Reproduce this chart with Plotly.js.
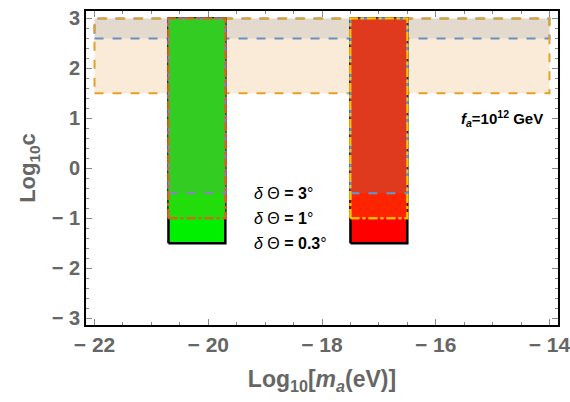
<!DOCTYPE html>
<html><head><meta charset="utf-8">
<script src="https://cdn.plot.ly/plotly-3.0.1.min.js"></script>
<style>html,body{margin:0;padding:0;background:#fff}#c{width:570px;height:402px}</style>
</head><body><div id="c"></div>
<script>
// ---- data ----
const bandX = [-22, -14];          // log10 m_a range of horizontal band
const bandY = [1.5, 3];            // outer band (log10 c)
const innerBandY = [2.6, 3];       // inner band (log10 c)
const greenX = [-20.7, -19.7];     // green column (log10 m_a)
const redX = [-17.5, -16.5];       // red column (log10 m_a)
const columnTop = 3;
const angleLabels = ['3', '1', '0.3'];    // δΘ in degrees
const angleLevels = [-0.5, -1, -1.5];     // lower edge of column for each δΘ
const xTicks = [-22, -20, -18, -16, -14];
const yTicks = [-3, -2, -1, 0, 1, 2, 3];

function rect(x, y) {
  return { x: [x[0], x[1], x[1], x[0], x[0]], y: [y[0], y[0], y[1], y[1], y[0]] };
}
const traces = [];
function addRect(x, y, fill, lineColor, dash, width) {
  const r = rect(x, y);
  traces.push({ type: 'scatter', mode: 'lines', x: r.x, y: r.y,
    fill: fill ? 'toself' : 'none', fillcolor: fill || 'rgba(0,0,0,0)',
    line: { color: lineColor || 'rgba(0,0,0,0)', dash: dash || 'solid', width: lineColor ? width : 0 },
    hoverinfo: 'skip', showlegend: false });
}
// band
addRect(bandX, bandY, 'rgba(245,222,190,0.6)', null);
addRect(bandX, innerBandY, 'rgba(150,160,170,0.22)', '#6c8ebf', 'dash', 2);
addRect(bandX, bandY, null, '#e5a126', 'dash', 2);
// columns (0.3°, 1°, 3°)
const greenFills = ['#00f000', '#22dc0c', '#33cc22'];
const redFills = ['#ff0000', '#ff2400', '#e03a1e'];
const greenLines = [['#000000', 'solid', 2.5], ['#d2691e', 'dashdot', 2], ['#8b80c4', 'dash', 2]];
const redLines = [['#000000', 'solid', 2.5], ['#ffc000', 'dashdot', 2], ['#5b9bd5', 'dash', 2]];
for (let k = 2; k >= 0; k--) {
  const i = 2 - k; // 0 -> 0.3°, 1 -> 1°, 2 -> 3°
  const lvl = angleLevels[k];
  addRect(greenX, [lvl, columnTop], greenFills[i], greenLines[i][0], greenLines[i][1], greenLines[i][2]);
  addRect(redX, [lvl, columnTop], redFills[i], redLines[i][0], redLines[i][1], redLines[i][2]);
}
// 1° border on top edge (drawn above 3° border as in reference)
addRect(greenX, [angleLevels[1], columnTop], null, '#d2691e', 'dashdot', 2);
addRect(redX, [angleLevels[1], columnTop], null, '#ffc000', 'dashdot', 2);

const FONT = 'Liberation Sans, Arial, sans-serif';
const annotations = angleLabels.map((a, i) => ({
  x: greenX[1] + 0.47, y: angleLevels[i], xref: 'x', yref: 'y', xanchor: 'left', yanchor: 'middle',
  text: '<i>δ</i> Θ <b>= ' + a + '</b>°', showarrow: false,
  font: { family: FONT, size: 16, color: '#000' }
}));
annotations.push({
  x: bandX[1] - 0.07, y: 1.0, xref: 'x', yref: 'y', xanchor: 'right', yanchor: 'middle',
  text: '<b><i>f</i><sub><i>a</i></sub>=10<sup>12</sup> GeV</b>', showarrow: false,
  font: { family: FONT, size: 15, color: '#000' }
});

const neg = v => v < 0 ? '− ' + Math.abs(v) : String(v);
const layout = {
  width: 570, height: 402,
  margin: { l: 86, r: 12, t: 11, b: 77 },
  paper_bgcolor: '#fff', plot_bgcolor: '#fff',
  showlegend: false,
  xaxis: {
    range: [-22.15, -13.85], tickvals: xTicks,
    ticktext: xTicks.map(v => '<b>' + neg(v) + '</b>'),
    ticklabeloverflow: 'allow',
    ticks: 'inside', ticklen: 6, tickcolor: '#888', tickwidth: 1,
    minor: { dtick: 0.5, tick0: -22, ticks: 'inside', ticklen: 3, tickcolor: '#888' },
    showline: true, linecolor: '#000', linewidth: 2, mirror: 'ticks',
    showgrid: false, zeroline: false,
    tickfont: { family: FONT, size: 21, color: '#666' },
    title: { text: '<b>Log<sub>10</sub>[<i>m</i><sub><i>a</i></sub>(eV)]</b>', standoff: 16,
      font: { family: FONT, size: 23, color: '#666' } }
  },
  yaxis: {
    range: [-3.14, 3.15], tickvals: yTicks,
    ticktext: yTicks.map(v => '<b>' + neg(v) + '</b>'),
    ticklabeloverflow: 'allow',
    ticks: 'inside', ticklen: 6, tickcolor: '#888', tickwidth: 1,
    minor: { dtick: 0.2, tick0: 0, ticks: 'inside', ticklen: 3, tickcolor: '#888' },
    showline: true, linecolor: '#000', linewidth: 2, mirror: 'ticks',
    showgrid: false, zeroline: false,
    tickfont: { family: FONT, size: 20, color: '#666' },
    title: { text: '<b>Log<sub>10</sub>c</b>', standoff: 10,
      font: { family: FONT, size: 22, color: '#666' } }
  },
  annotations: annotations
};
Plotly.newPlot('c', traces, layout, { staticPlot: true });
</script></body></html>
